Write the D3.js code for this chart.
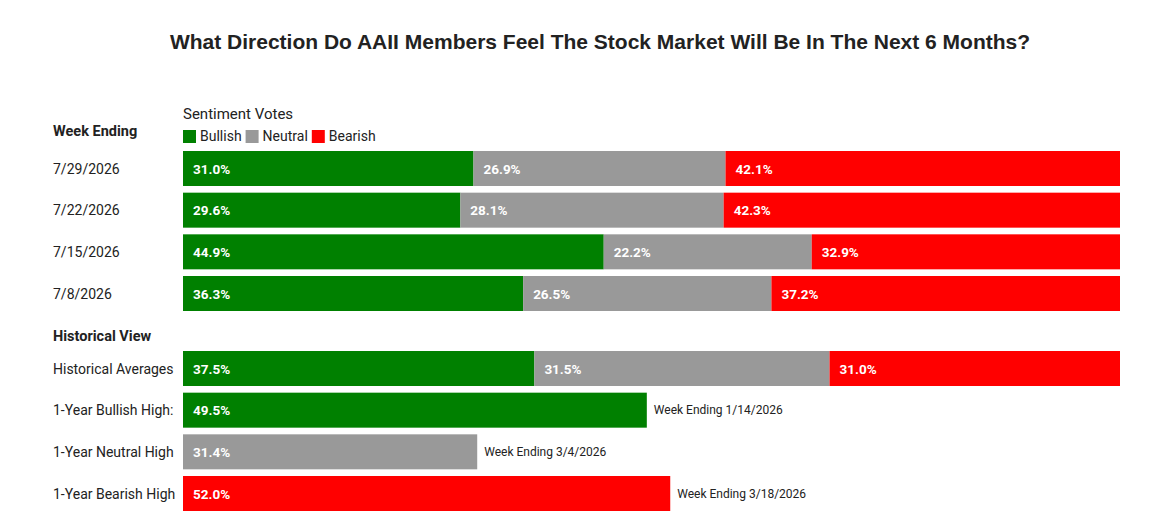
<!DOCTYPE html>
<html>
<head>
<meta charset="utf-8">
<script src="https://cdn.jsdelivr.net/npm/d3@7"></script>
<style>
body { margin: 0; background: #fff; }
svg text { font-family: Roboto, "Noto Sans", sans-serif; fill: #222; }
</style>
</head>
<body>
<svg width="1150" height="517"></svg>
<script>
// data
const weeks = ["7/29/2026", "7/22/2026", "7/15/2026", "7/8/2026"];
const weekBullish = [31.0, 29.6, 44.9, 36.3];
const weekNeutral = [26.9, 28.1, 22.2, 26.5];
const weekBearish = [42.1, 42.3, 32.9, 37.2];

const histLabels = ["Historical Averages", "1-Year Bullish High:", "1-Year Neutral High", "1-Year Bearish High"];
const histAvg = [37.5, 31.5, 31.0];
const highValues = [49.5, 31.4, 52.0];
const highWeeks = ["Week Ending 1/14/2026", "Week Ending 3/4/2026", "Week Ending 3/18/2026"];

const series = ["Bullish", "Neutral", "Bearish"];
const colors = ["#008000", "#999999", "#ff0000"];

const svg = d3.select("svg");

// scales
const x = d3.scaleLinear().domain([0, 100]).range([183, 1120]);
const y1 = d3.scaleBand().domain(weeks).range([151, 311]).paddingInner(0.16).paddingOuter(0);
const y2 = d3.scaleBand().domain(histLabels).range([351, 511]).paddingInner(0.16).paddingOuter(0);
const color = d3.scaleOrdinal().domain(series).range(colors);

// title
svg.append("text")
    .attr("x", 600).attr("y", 49)
    .attr("text-anchor", "middle")
    .style("font-family", "'Liberation Sans', Arial, sans-serif")
    .style("font-size", "21px").style("font-weight", "bold")
    .text("What Direction Do AAII Members Feel The Stock Market Will Be In The Next 6 Months?");

// legend
svg.append("text").attr("x", 183).attr("y", 119).style("font-size", "15px").text("Sentiment Votes");
const legend = svg.append("g");
let lx = 183;
series.forEach((s, i) => {
    legend.append("rect").attr("x", lx).attr("y", 130).attr("width", 13).attr("height", 13).attr("fill", color(s));
    const t = legend.append("text").attr("x", lx + 17).attr("y", 141).style("font-size", "14px").text(s);
    lx += 17 + t.node().getComputedTextLength() + 4;
});

// section headers
svg.append("text").attr("x", 53).attr("y", 136).style("font-size", "14.5px").style("font-weight", "bold").text("Week Ending");
svg.append("text").attr("x", 53).attr("y", 341).style("font-size", "14.5px").style("font-weight", "bold").text("Historical View");

function stackRow(g, yPos, h, vals) {
    let acc = 0;
    vals.forEach((v, i) => {
        g.append("rect")
            .attr("x", x(acc)).attr("y", yPos)
            .attr("width", x(acc + v) - x(acc)).attr("height", h)
            .attr("fill", colors[i]);
        g.append("text")
            .attr("x", x(acc) + 10).attr("y", yPos + h / 2 + 5)
            .style("fill", "#fff").style("font-size", "13.5px").style("font-weight", "bold")
            .text(v.toFixed(1) + "%");
        acc += v;
    });
}

// weekly stacked bars
const gw = svg.append("g");
weeks.forEach((w, i) => {
    gw.append("text").attr("x", 53).attr("y", y1(w) + y1.bandwidth() / 2 + 5).style("font-size", "14px").text(w);
    stackRow(gw, y1(w), y1.bandwidth(), [weekBullish[i], weekNeutral[i], weekBearish[i]]);
});

// historical
const gh = svg.append("g");
histLabels.forEach(l => {
    gh.append("text").attr("x", 53).attr("y", y2(l) + y2.bandwidth() / 2 + 5).style("font-size", "14px").text(l);
});
stackRow(gh, y2(histLabels[0]), y2.bandwidth(), histAvg);

highValues.forEach((v, i) => {
    const yy = y2(histLabels[i + 1]);
    const h = y2.bandwidth();
    gh.append("rect").attr("x", x(0)).attr("y", yy).attr("width", x(v) - x(0)).attr("height", h).attr("fill", colors[i]);
    gh.append("text").attr("x", x(0) + 10).attr("y", yy + h / 2 + 5)
        .style("fill", "#fff").style("font-size", "13.5px").style("font-weight", "bold")
        .text(v.toFixed(1) + "%");
    gh.append("text").attr("x", x(v) + 7).attr("y", yy + h / 2 + 4)
        .style("font-size", "12px").text(highWeeks[i]);
});
</script>
</body>
</html>
